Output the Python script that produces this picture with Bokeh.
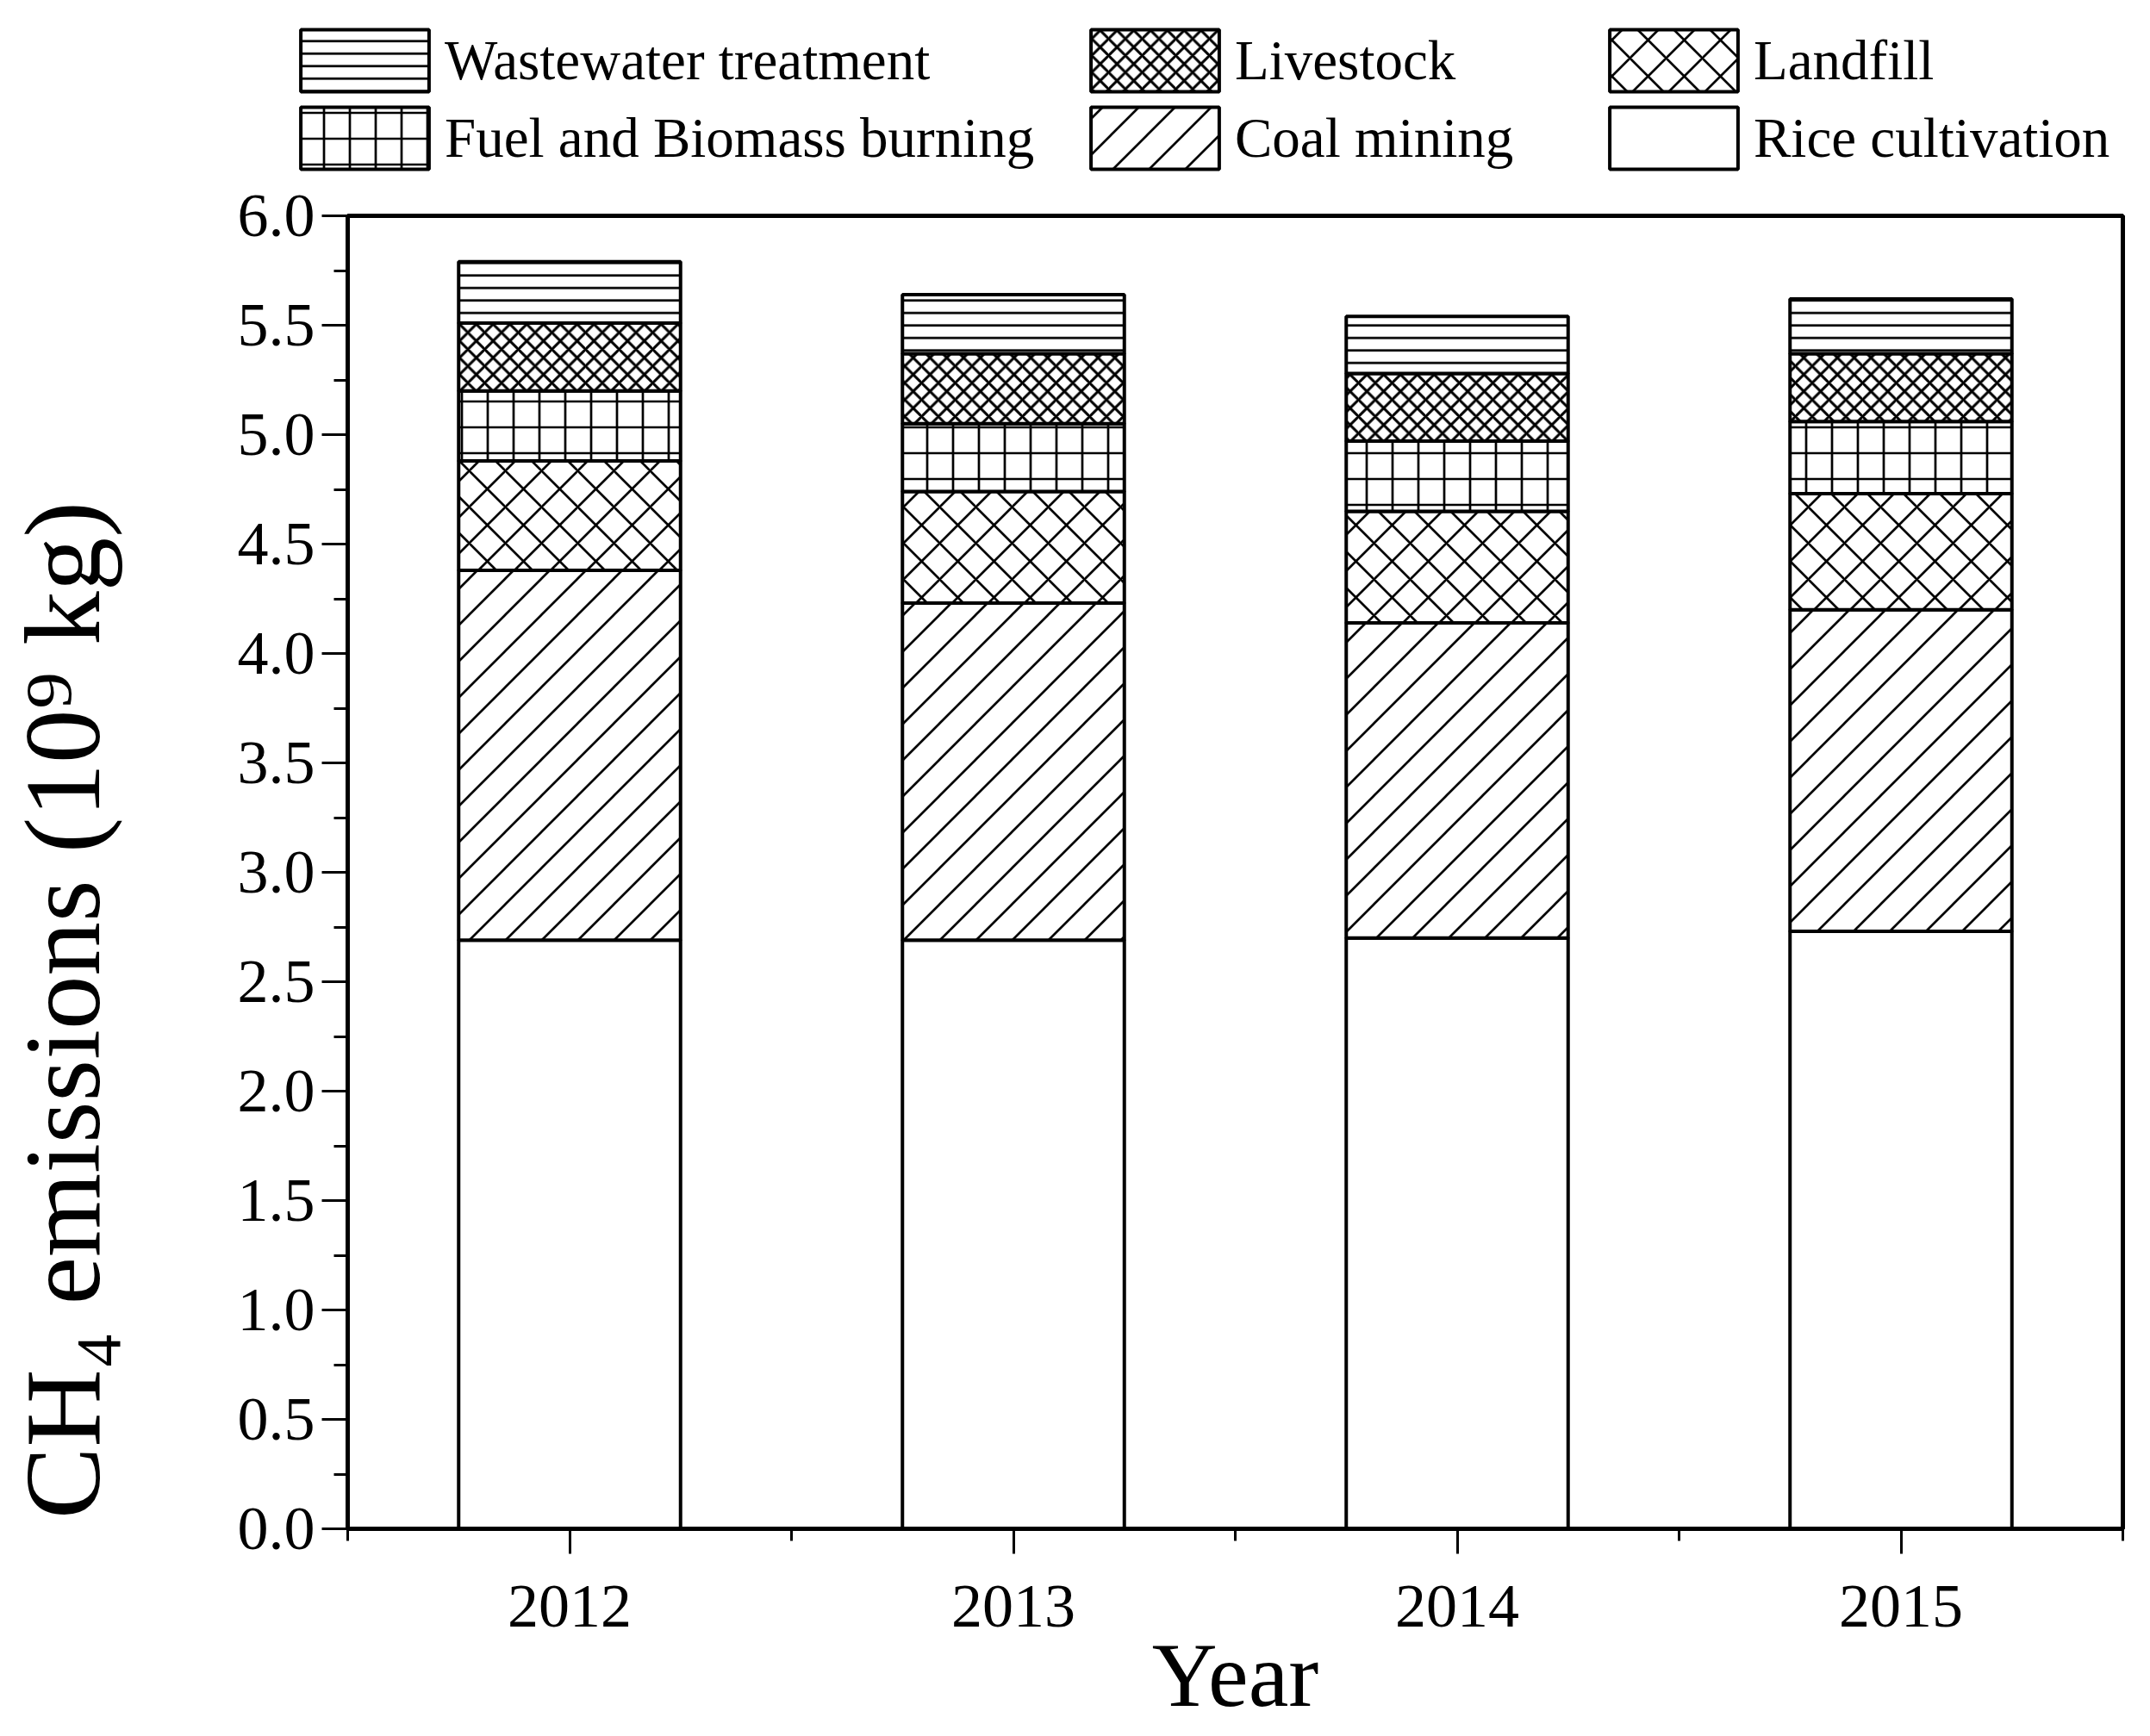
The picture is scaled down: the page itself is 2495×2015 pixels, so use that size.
import base64
from bokeh.plotting import figure
from bokeh.layouts import column, row
from bokeh.models import (Range1d, FixedTicker, SingleIntervalTicker, PrintfTickFormatter,
                          Legend, LegendItem, ColumnDataSource, ImageURLTexture, Label)
from bokeh.core.properties import value
from bokeh.embed import file_html
from bokeh.resources import INLINE

# ---- data (10^9 kg) ----
years = [2012, 2013, 2014, 2015]
rice_cultivation = [2.69, 2.69, 2.70, 2.73]
coal_mining = [1.69, 1.54, 1.44, 1.47]
landfill = [0.50, 0.51, 0.51, 0.53]
fuel_biomass = [0.32, 0.31, 0.32, 0.33]
livestock = [0.31, 0.32, 0.31, 0.31]
wastewater = [0.28, 0.27, 0.26, 0.25]

stackers = ["rice", "coal", "landfill", "fuel", "livestock", "wastewater"]
labels = {
    "rice": "Rice cultivation",
    "coal": "Coal mining",
    "landfill": "Landfill",
    "fuel": "Fuel and Biomass burning",
    "livestock": "Livestock",
    "wastewater": "Wastewater treatment",
}
x_title = "Year"
y_title = "CH\u2084 emissions (10\u2079 kg)"

src = ColumnDataSource(dict(year=years, rice=rice_cultivation, coal=coal_mining,
                            landfill=landfill, fuel=fuel_biomass,
                            livestock=livestock, wastewater=wastewater))

FONT = "Liberation Serif"
X0, X1, Y0, Y1 = 2011.5, 2015.5, 0.0, 6.0
TOTAL_W = 2479
LEG_H = 210          # height of legend strip
MAIN_H = 1796        # height of chart row
TITLE_W = 250        # width of y-title strip
BORDER_TOP, BORDER_BOTTOM = 40, 232
y_range = Range1d(Y0, Y1)

# 45-degree "/" hatch tile (style only)
tile = ("<svg xmlns='http://www.w3.org/2000/svg' width='42' height='42'>"
        "<path d='M0 42L42 0M-42 42L42 -42M0 84L84 0' stroke='black' "
        "stroke-width='2.7' fill='none'/></svg>")
tile_url = "data:image/svg+xml;base64," + base64.b64encode(tile.encode()).decode()

style = dict(
    fill_color="white", line_color="black", line_width=4, hatch_color="black",
    hatch_pattern=[" ", value("diag45"), "diagonal_cross", "cross",
                   "diagonal_cross", "horizontal_line"],
    hatch_scale=[10, 42, 42, 30, 19.5, 14.5],
    hatch_weight=[1, 2.7, 2.7, 2.7, 3.0, 2.7],
)

def bare(fig):
    fig.xgrid.visible = False
    fig.ygrid.visible = False
    fig.outline_line_alpha = 0
    return fig

# ---------------- main chart ----------------
p = figure(width=TOTAL_W - TITLE_W, height=MAIN_H, output_backend="svg",
           toolbar_location=None, x_range=Range1d(X0, X1), y_range=y_range,
           min_border_left=403 - TITLE_W, min_border_right=16,
           min_border_top=BORDER_TOP, min_border_bottom=BORDER_BOTTOM)
p.xgrid.visible = False
p.ygrid.visible = False
p.outline_line_color = "black"
p.outline_line_width = 5
p.outline_line_alpha = 1

p.vbar_stack(stackers, x="year", width=0.5, source=src,
             hatch_extra={"diag45": ImageURLTexture(url=tile_url)}, **style)

xa = p.xaxis[0]
xa.ticker = FixedTicker(ticks=years, minor_ticks=[2011.5, 2012.5, 2013.5, 2014.5, 2015.5])
xa.formatter = PrintfTickFormatter(format="%d")
ya = p.yaxis[0]
ya.ticker = SingleIntervalTicker(interval=0.5, num_minor_ticks=2)
ya.formatter = PrintfTickFormatter(format="%.1f")

for ax in (xa, ya):
    ax.axis_line_width = 5
    ax.axis_line_color = "black"
    ax.major_tick_in = 0
    ax.minor_tick_in = 0
    ax.major_tick_line_width = 3
    ax.minor_tick_line_width = 3
    ax.major_tick_line_color = "black"
    ax.minor_tick_line_color = "black"
    ax.major_label_text_font = FONT
    ax.major_label_text_font_size = "72px"
    ax.major_label_text_color = "black"

xa.major_tick_out = 29
xa.minor_tick_out = 14
xa.major_label_standoff = 37
xa.axis_label = x_title
xa.axis_label_text_font = FONT
xa.axis_label_text_font_style = "normal"
xa.axis_label_text_font_size = "105px"
xa.axis_label_text_color = "black"
xa.axis_label_standoff = -5

ya.major_tick_out = 30
ya.minor_tick_out = 16
ya.major_label_standoff = 8

# ---------------- y title strip ----------------
t = bare(figure(width=TITLE_W, height=MAIN_H, output_backend="svg",
                toolbar_location=None, x_range=Range1d(0, TITLE_W), y_range=y_range,
                x_axis_location=None, y_axis_location=None,
                min_border_left=0, min_border_right=0,
                min_border_top=BORDER_TOP, min_border_bottom=BORDER_BOTTOM))
t.add_layout(Label(x=72, y=2.37, text=y_title, angle=90, angle_units="deg",
                   text_align="center", text_baseline="alphabetic",
                   text_font=FONT, text_font_size="125px", text_color="black"))

# ---------------- legend strip ----------------
# the same stacked bars, drawn small behind the opaque first legend block, feed the legend glyphs
lg = bare(figure(width=TOTAL_W, height=LEG_H, output_backend="svg",
                 toolbar_location=None, x_range=Range1d(2010, 2022),
                 y_range=Range1d(-1, 20),
                 x_axis_location=None, y_axis_location=None,
                 min_border_left=0, min_border_right=0, min_border_top=0, min_border_bottom=0))
proxy_list = lg.vbar_stack(stackers, x="year", width=0.5, source=src,
                           hatch_extra={"diag45": ImageURLTexture(url=tile_url)}, **style)
proxies = dict(zip(stackers, proxy_list))

columns = [["wastewater", "fuel"], ["livestock", "coal"], ["landfill", "rice"]]
col_x = [330, 1247, 1849]
for keys, x in zip(columns, col_x):
    lg.add_layout(Legend(
        items=[LegendItem(label=labels[k], renderers=[proxies[k]], index=0) for k in keys],
        location=(x, 5), orientation="vertical",
        glyph_width=186, glyph_height=90, label_height=90, spacing=0,
        label_standoff=0, padding=0, margin=0,
        border_line_alpha=0, background_fill_color="white", background_fill_alpha=1,
        label_text_font=FONT, label_text_font_size="65px", label_text_color="black",
    ))

layout = column(lg, row(t, p))
open("out.html", "w").write(file_html(layout, INLINE))
